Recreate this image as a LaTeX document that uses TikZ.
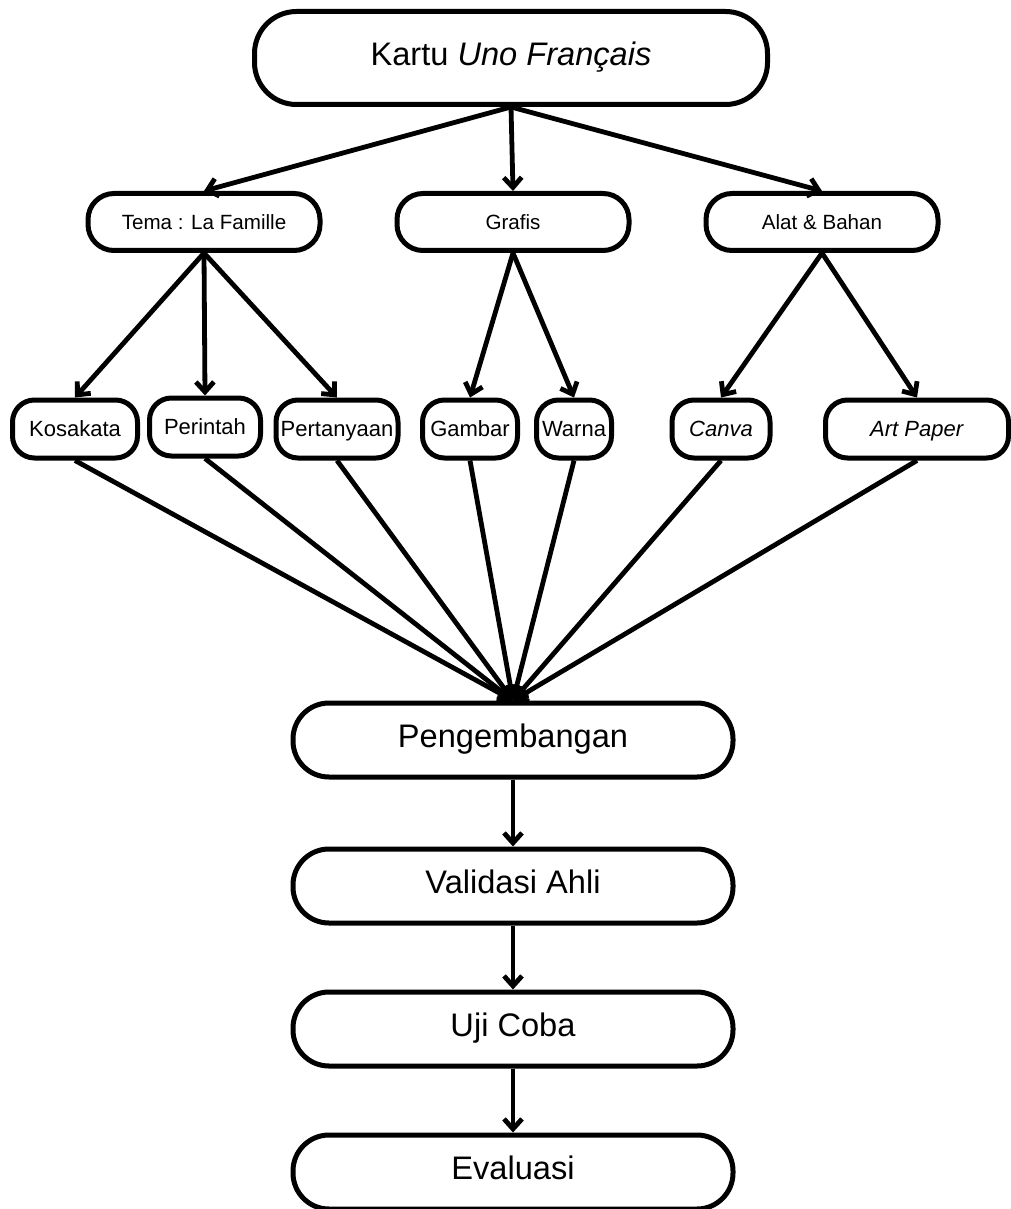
\documentclass[tikz,border=0pt]{standalone}
\usepackage{fontspec}
\setmainfont{Liberation Sans}
\usetikzlibrary{arrows.meta,positioning}

\begin{document}
\begin{tikzpicture}[x=0.5pt,y=-0.5pt,
	box/.style={draw,line width=2.5pt,rounded corners=#1,inner sep=0pt,align=center,text height=0.8em,text depth=0.05em},
	big/.style={box=18pt,minimum width=220pt,minimum height=37pt,font=\fontsize{16.3}{18}\selectfont},
	mid/.style={box=13pt,minimum width=116pt,minimum height=28.5pt,font=\fontsize{10.3}{12}\selectfont},
	leaf/.style={box=11pt,minimum height=29pt,font=\fontsize{11}{13}\selectfont},
	>={Straight Barb[length=5pt,width=9pt]}]
		\useasboundingbox (0,0) rectangle (1011,1209);
		\node[big,minimum width=256.5pt,minimum height=46.5pt,rounded corners=21pt] (kartu) at (511,58) {Kartu \textit{Uno Français}};
		
		\node[mid] (tema) at (204,222) {Tema : La Famille};
		\node[mid] (grafis) at (513,222) {Grafis};
		\node[mid] (alat) at (822,222) {Alat \& Bahan};
		
		\node[leaf,minimum width=62.5pt] (kosa) at (75,429) {Kosakata};
		\node[leaf,minimum width=55.5pt] (perintah) at (205,427) {Perintah};
		\node[leaf,minimum width=61pt] (tanya) at (337,429) {Pertanyaan};
		\node[leaf,minimum width=47.5pt] (gambar) at (470,429) {Gambar};
		\node[leaf,minimum width=37.5pt] (warna) at (574,429) {Warna};
		\node[leaf,minimum width=49pt] (canva) at (721,429) {\textit{Canva}};
		\node[leaf,minimum width=91.5pt] (paper) at (917,429) {\textit{Art Paper}};
		
		\node[big] (kembang) at (513,740) {Pengembangan};
		\node[big] (validasi) at (513,886) {Validasi Ahli};
		\node[big] (uji) at (513,1029) {Uji Coba};
		\node[big] (evaluasi) at (513,1172) {Evaluasi};
		
		\path[->,line width=2.4pt]
		(kartu.south) edge (tema.north)
		(kartu.south) edge (grafis.north)
		(kartu.south) edge (alat.north)
		(tema.south) edge (kosa.north)
		(tema.south) edge (perintah.north)
		(tema.south) edge (tanya.north)
		(grafis.south) edge (gambar.north)
		(grafis.south) edge (warna.north)
		(alat.south) edge (canva.north)
		(alat.south) edge (paper.north);
		
		% semua masuk ke pengembangan
		\path[->,line width=2.4pt]
		(kosa.south) edge (kembang.north)
		(perintah.south) edge (kembang.north)
		(tanya.south) edge (kembang.north)
		(gambar.south) edge (kembang.north)
		(warna.south) edge (kembang.north)
		(canva.south) edge (kembang.north)
		(paper.south) edge (kembang.north)
		(kembang) edge (validasi)
		(validasi) edge (uji)
		(uji) edge (evaluasi);
		
\end{tikzpicture}
\end{document}
